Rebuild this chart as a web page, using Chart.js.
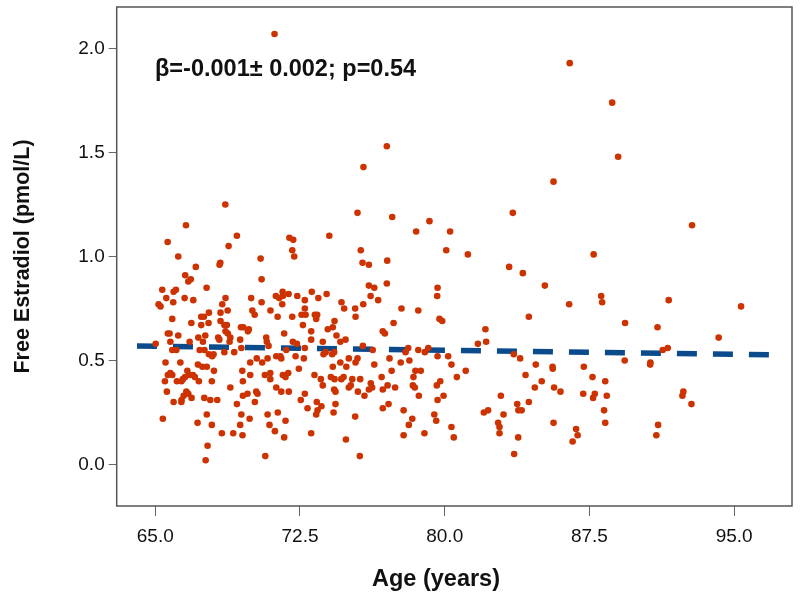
<!DOCTYPE html>
<html lang="en">
<head>
  <meta charset="UTF-8" />
  <title>Free Estradiol vs Age</title>
  <script src="https://cdn.jsdelivr.net/npm/chart.js"></script>
  <style>
    * { margin: 0; padding: 0; box-sizing: border-box; }
    body { background: #ffffff; width: 800px; height: 599px; overflow: hidden; }
    #chart { display: block; }
  </style>
</head>
<body>
  <canvas id="chart" width="800" height="599"></canvas>

  <script>
    // age (years) of each subject
    const ages = [
      71.18, 77.0, 75.79, 68.63, 75.48, 86.48, 88.68, 88.99, 85.64, 83.53,
      66.59, 65.64, 69.23, 68.80, 71.95, 72.15, 72.10, 72.20, 66.19, 68.37,
      68.33, 67.10, 70.46, 70.51, 66.55, 66.71, 66.84, 67.66, 65.36, 65.95,
      66.07, 65.57, 65.17, 65.27, 65.93, 66.52, 66.97, 68.64, 68.47, 68.75,
      68.38, 67.78, 67.38, 67.52, 65.88, 66.87, 67.38, 67.76, 68.38, 68.58,
      68.71, 69.97, 70.51, 70.03, 70.15, 70.97, 71.34, 71.25, 71.42, 71.60,
      71.61, 71.91, 72.36, 72.75, 71.58, 72.75, 72.58, 72.79, 72.10, 72.65,
      69.44, 69.56, 69.85, 69.80, 71.68, 70.75, 65.65, 65.74, 66.19, 67.23,
      67.59, 68.26, 68.32, 68.64, 68.76, 68.89, 68.85, 69.40,
      77.28, 79.21, 78.52, 80.28, 74.02, 80.08, 81.20, 75.65, 75.74, 76.07,
      77.02, 76.07, 76.35, 77.00, 76.16, 76.55, 75.78, 79.63, 79.61, 73.11,
      73.45, 73.88, 74.65, 74.79, 75.36, 75.38, 77.76, 78.63, 79.73, 79.87,
      77.35, 76.79, 76.90, 73.27, 73.39, 73.34, 74.29, 73.94, 74.20, 73.08,
      74.39, 74.86, 74.59, 73.68, 73.08,
      65.02, 65.78, 66.78, 67.47, 70.78, 72.13, 72.34, 72.75, 69.46, 65.88,
      66.09, 67.30, 67.55, 67.78, 68.02, 67.95, 68.58, 69.09, 70.87, 71.27,
      71.53, 71.48, 71.79, 72.27, 72.70, 65.53, 66.30, 67.21, 67.44, 67.67,
      69.92, 70.26, 70.54, 70.82, 72.44, 68.04, 69.51, 69.92, 65.78, 65.65,
      65.88, 66.12, 66.36, 66.54, 66.66, 66.78, 66.95, 67.05, 67.26, 67.93,
      66.43, 65.50, 69.54, 70.68, 70.96, 70.96, 71.61, 71.75, 71.89, 68.89,
      65.60, 66.61, 66.47, 66.71, 66.88, 66.36, 65.95, 66.35, 67.54, 67.85,
      68.21, 69.54, 69.78, 70.23, 70.30, 70.16, 69.23, 71.27, 71.53, 71.92,
      72.75, 72.54, 72.89, 67.67, 69.46, 69.89, 70.82, 71.35, 71.75, 65.39,
      67.19, 67.93, 69.40, 70.92, 71.20, 68.45, 69.04, 69.52, 71.68, 67.71,
      70.70, 67.61,
      73.72, 73.83, 74.17, 74.27, 75.03, 75.38, 75.48, 75.76, 76.27, 77.14,
      77.72, 78.17, 78.11, 77.97, 78.63, 79.15, 78.97, 79.63, 80.18, 80.35,
      81.09, 80.63, 74.20, 74.59, 74.90, 76.35, 77.25, 73.25, 73.58, 73.68,
      74.10, 74.29, 74.64, 74.76, 75.21, 75.62, 75.03, 75.13, 74.27, 74.34,
      75.50, 75.84, 76.07, 76.17, 76.24, 76.73, 77.04, 76.79, 77.43, 78.38,
      78.48, 78.76, 78.35, 78.45, 78.66, 79.59, 79.77, 79.63, 79.94, 73.37,
      73.61, 73.41, 73.34, 74.24, 74.34, 76.79, 77.09, 77.87, 78.32, 78.14,
      79.46, 79.56, 75.36, 73.08, 77.87, 78.95, 80.35, 80.47, 74.88, 75.60,
      87.72, 83.34, 84.05, 85.19, 86.45, 88.11, 88.16, 84.36, 89.35, 82.11,
      81.72, 82.15, 83.58, 83.91, 84.72, 85.59, 85.60, 87.21, 89.33, 84.19,
      85.03, 84.67, 85.67, 86.00, 87.66, 88.32, 87.18, 87.78, 87.69, 88.40,
      82.91, 82.03, 82.25, 83.76, 83.82, 83.99, 84.36, 83.05, 82.77, 82.84,
      82.84, 83.81, 83.60, 85.64, 86.81, 86.89, 86.63, 88.26, 88.32,
      92.82, 91.61, 95.36, 91.03, 94.20, 91.30, 91.56, 90.66, 90.65, 92.37,
      92.32, 92.79, 91.06, 90.97
    ];

    // free estradiol (pmol/L), same order as ages
    const estradiol = [
      2.07, 1.53, 1.43, 1.25, 1.21, 1.93, 1.74, 1.48, 1.36, 1.21,
      1.15, 1.07, 1.10, 1.05, 1.09, 1.08, 1.03, 1.00, 1.00, 0.97,
      0.96, 0.95, 0.99, 0.89, 0.91, 0.88, 0.89, 0.85, 0.84, 0.83,
      0.84, 0.80, 0.77, 0.76, 0.78, 0.80, 0.79, 0.80, 0.77, 0.74,
      0.73, 0.73, 0.71, 0.71, 0.70, 0.68, 0.67, 0.68, 0.69, 0.67,
      0.67, 0.80, 0.78, 0.74, 0.72, 0.74, 0.71, 0.81, 0.80, 0.83,
      0.81, 0.82, 0.81, 0.79, 0.77, 0.75, 0.72, 0.72, 0.71, 0.67,
      0.66, 0.66, 0.65, 0.64, 0.63, 0.61, 0.63, 0.63, 0.62, 0.61,
      0.62, 0.61, 0.60, 0.64, 0.63, 0.61, 0.59, 0.60,
      1.19, 1.17, 1.12, 1.12, 1.10, 1.03, 1.01, 1.03, 0.97, 0.96,
      0.98, 0.86, 0.85, 0.87, 0.81, 0.79, 0.77, 0.85, 0.81, 0.83,
      0.80, 0.82, 0.78, 0.75, 0.75, 0.71, 0.75, 0.74, 0.70, 0.69,
      0.68, 0.64, 0.63, 0.72, 0.72, 0.70, 0.69, 0.65, 0.66, 0.64,
      0.62, 0.60, 0.59, 0.59, 0.60,
      0.58, 0.59, 0.59, 0.59, 0.59, 0.59, 0.58, 0.56, 0.56, 0.55,
      0.55, 0.55, 0.55, 0.53, 0.53, 0.52, 0.54, 0.54, 0.57, 0.52,
      0.51, 0.52, 0.55, 0.52, 0.51, 0.49, 0.49, 0.48, 0.47, 0.47,
      0.49, 0.51, 0.49, 0.51, 0.46, 0.45, 0.45, 0.43, 0.44, 0.43,
      0.43, 0.40, 0.40, 0.42, 0.45, 0.43, 0.43, 0.42, 0.40, 0.40,
      0.41, 0.40, 0.40, 0.43, 0.44, 0.41, 0.43, 0.42, 0.44, 0.37,
      0.35, 0.35, 0.33, 0.34, 0.32, 0.31, 0.30, 0.30, 0.32, 0.31,
      0.31, 0.33, 0.34, 0.35, 0.34, 0.30, 0.29, 0.37, 0.35, 0.35,
      0.34, 0.31, 0.27, 0.24, 0.24, 0.22, 0.24, 0.25, 0.21, 0.22,
      0.20, 0.19, 0.19, 0.19, 0.16, 0.15, 0.15, 0.14, 0.13, 0.09,
      0.04, 0.02,
      0.53, 0.54, 0.53, 0.54, 0.51, 0.49, 0.51, 0.57, 0.55, 0.51,
      0.49, 0.50, 0.56, 0.54, 0.55, 0.56, 0.54, 0.52, 0.52, 0.48,
      0.45, 0.42, 0.47, 0.49, 0.47, 0.48, 0.45, 0.43, 0.41, 0.38,
      0.42, 0.41, 0.41, 0.42, 0.41, 0.41, 0.37, 0.38, 0.36, 0.35,
      0.35, 0.33, 0.36, 0.39, 0.37, 0.42, 0.38, 0.36, 0.37, 0.42,
      0.45, 0.45, 0.38, 0.37, 0.33, 0.38, 0.40, 0.31, 0.33, 0.30,
      0.28, 0.26, 0.24, 0.25, 0.29, 0.27, 0.29, 0.26, 0.22, 0.19,
      0.24, 0.21, 0.23, 0.15, 0.14, 0.15, 0.18, 0.13, 0.12, 0.04,
      1.01, 0.95, 0.92, 0.86, 0.77, 0.81, 0.78, 0.71, 0.68, 0.65,
      0.58, 0.59, 0.53, 0.51, 0.48, 0.47, 0.46, 0.47, 0.50, 0.43,
      0.40, 0.37, 0.37, 0.35, 0.42, 0.40, 0.34, 0.34, 0.32, 0.33,
      0.33, 0.25, 0.26, 0.29, 0.26, 0.26, 0.30, 0.24, 0.20, 0.18,
      0.15, 0.13, 0.05, 0.20, 0.17, 0.14, 0.11, 0.26, 0.20,
      1.15, 0.79, 0.76, 0.66, 0.61, 0.55, 0.56, 0.49, 0.48, 0.35,
      0.33, 0.29, 0.19, 0.14
    ];

    // fitted regression line (end points)
    const fitAges = [64.05, 97.1];
    const fitValues = [0.570, 0.527];

    // tick labels
    const xTicks = [65.0, 72.5, 80.0, 87.5, 95.0];
    const yTicks = [0.0, 0.5, 1.0, 1.5, 2.0];

    const annotation = 'β=-0.001± 0.002; p=0.54';
    const xTitle = 'Age (years)';
    const yTitle = 'Free Estradiol (pmol/L)';

    const FONT = "'Liberation Sans', Arial, Helvetica, sans-serif";

    const points = ages.map((a, i) => ({ x: a, y: estradiol[i] }));
    const fitLine = fitAges.map((a, i) => ({ x: a, y: fitValues[i] }));

    // box round the plot, x title and the regression text
    const extras = {
      id: 'extras',
      afterDraw(chart) {
        const { ctx, chartArea: a } = chart;
        ctx.save();
        ctx.strokeStyle = '#555555';
        ctx.lineWidth = 1.5;
        ctx.strokeRect(a.left, a.top, a.right - a.left, a.bottom - a.top);

        ctx.fillStyle = '#111111';
        ctx.font = 'bold 23.5px ' + FONT;
        ctx.textAlign = 'center';
        ctx.textBaseline = 'middle';
        ctx.fillText(xTitle, 436, 580);

        ctx.textAlign = 'left';
        ctx.textBaseline = 'alphabetic';
        ctx.fillText(annotation, 155, 76);
        ctx.restore();
      }
    };

    new Chart(document.getElementById('chart'), {
      type: 'scatter',
      data: {
        datasets: [
          {
            label: 'Free estradiol',
            data: points,
            backgroundColor: '#cc3300',
            borderColor: '#cc3300',
            borderWidth: 0,
            pointRadius: 3.3,
            order: 0
          },
          {
            type: 'line',
            label: 'Fit',
            data: fitLine,
            borderColor: '#0b4a8b',
            borderWidth: 5.5,
            borderDash: [20, 16],
            borderCapStyle: 'butt',
            pointRadius: 0,
            fill: false,
            order: 1
          }
        ]
      },
      options: {
        responsive: false,
        animation: false,
        devicePixelRatio: 1,
        layout: { padding: { left: 0, right: 8, top: 7, bottom: 0 } },
        plugins: {
          legend: { display: false },
          tooltip: { enabled: false }
        },
        scales: {
          x: {
            type: 'linear',
            min: 63,
            max: 98,
            afterBuildTicks: s => { s.ticks = xTicks.map(v => ({ value: v })); },
            afterFit: s => { s.height = 93; s.paddingLeft = 0; s.paddingRight = 0; },
            grid: { drawOnChartArea: false, drawTicks: true, tickLength: 10, color: '#666666' },
            border: { display: false },
            ticks: {
              padding: 9,
              color: '#111111',
              font: { family: FONT, size: 19 },
              maxRotation: 0,
              callback: v => v.toFixed(1)
            }
          },
          y: {
            type: 'linear',
            min: -0.2,
            max: 2.2,
            afterBuildTicks: s => { s.ticks = yTicks.map(v => ({ value: v })); },
            afterFit: s => { s.width = 116.7; s.paddingTop = 0; s.paddingBottom = 0; },
            grid: { drawOnChartArea: false, drawTicks: true, tickLength: 8, color: '#666666' },
            border: { display: false },
            ticks: {
              padding: 4,
              color: '#111111',
              font: { family: FONT, size: 19 },
              callback: v => v.toFixed(1)
            },
            title: {
              display: true,
              text: yTitle,
              color: '#111111',
              font: { family: FONT, size: 21.5, weight: 'bold' },
              padding: { top: 10, bottom: 0 }
            }
          }
        }
      },
      plugins: [extras]
    });
  </script>
</body>
</html>
